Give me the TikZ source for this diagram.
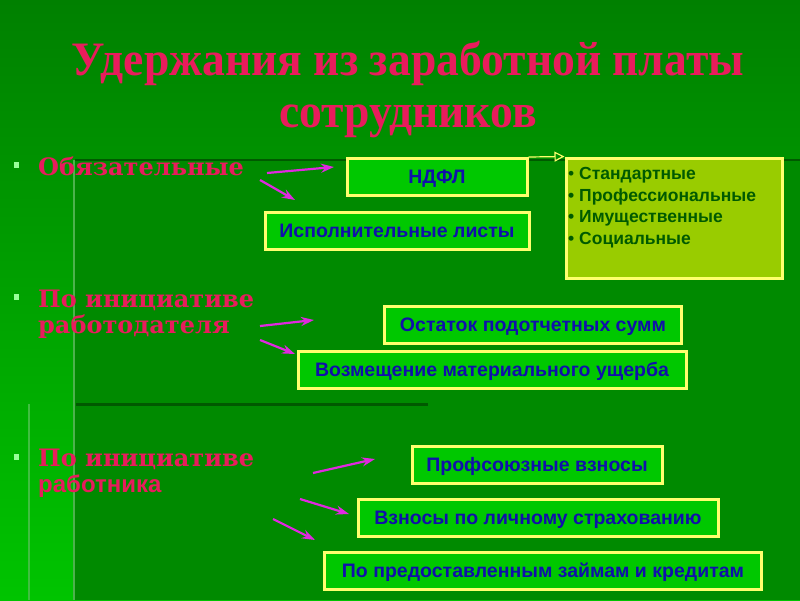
\documentclass[tikz,border=0pt]{standalone}
\usepackage{fontspec}
\setmainfont{Liberation Sans}
\newfontfamily\titlefont[FakeStretch=0.95]{Liberation Serif}
\newfontfamily\slabfont{DejaVu Serif}
\usetikzlibrary{arrows.meta,positioning}
\definecolor{bgdark}{RGB}{0,128,0}
\definecolor{bglight}{RGB}{0,196,0}
\definecolor{bgpanel}{RGB}{0,138,0}
\definecolor{titlered}{RGB}{232,28,92}
\definecolor{boxgreen}{RGB}{0,200,0}
\definecolor{boxyellow}{RGB}{255,255,110}
\definecolor{boxblue}{RGB}{16,16,170}
\definecolor{listgreen}{RGB}{153,204,0}
\definecolor{listtext}{RGB}{0,90,0}
\definecolor{pinkarrow}{RGB}{224,40,224}

\tikzset{
  wbox/.style={draw=boxyellow, line width=3pt, fill=boxgreen, text=boxblue,
    font=\fontsize{19.5}{22}\selectfont\bfseries, inner sep=0pt, minimum height=37pt,
    text height=14pt, text depth=1.5pt},
  kindlabel/.style={text=titlered, font=\slabfont\fontsize{24}{26}\selectfont\bfseries,
    anchor=base west, inner sep=0pt, align=left},
  sqbullet/.style={fill=green!40!white, minimum width=5pt, minimum height=6pt, inner sep=0pt},
  pinkarr/.style={draw=pinkarrow, line width=2.2pt, -{Stealth[length=13pt,width=9pt]}}
}

\begin{document}
\begin{tikzpicture}[x=1pt, y=-1pt]
  \useasboundingbox (0,0) rectangle (800,600);
  % background
  \shade[top color=bgdark, bottom color=bglight] (0,0) rectangle (800,600);
  \fill[bgpanel] (75,160) rectangle (800,600);
  \draw[green!35!black, line width=2pt] (75,160) -- (800,160);
  \draw[gray!60!green, line width=2.5pt] (74,160) -- (74,600);
  \draw[green!35!black, line width=3pt] (76,404) -- (428,404);
  \draw[gray!50!green, line width=2pt] (29,404) -- (29,600);

  % title
  \node[text=titlered, font=\titlefont\fontsize{48}{52}\selectfont\bfseries, align=center, anchor=base]
    (title) at (408,127) {Удержания из заработной платы\\сотрудников};

  % kinds of deductions
  \node[sqbullet] (b1) at (16,165) {};
  \node[kindlabel] (obyaz) at (38,175) {Обязательные};
  \node[sqbullet] (b2) at (16,297) {};
  \node[kindlabel] (rabotod) at (38,333) {По инициативе\\работодателя};
  \node[sqbullet] (b3) at (16,457) {};
  \node[kindlabel] (rabotn) at (38,492) {По инициативе\\{\rmfamily\fontsize{24}{26}\selectfont\bfseries работника}};

  % boxes
  \node[wbox, minimum width=180pt] (ndfl) at (437,177) {НДФЛ};
  \node[wbox, minimum width=264pt] (ispol) at (397,231) {Исполнительные листы};
  \node[draw=boxyellow, line width=3pt, fill=listgreen, text=listtext, minimum width=216pt,
    minimum height=120pt, inner sep=0pt] (vychet) at (674,218) {};
  \node[text=listtext, font=\fontsize{17.5}{21.7}\selectfont\bfseries, align=left, anchor=north west,
    inner sep=0pt] (vychtext) at (568,167) {{\mdseries\textbullet} Стандартные\\\textbullet{} Профессиональные\\\textbullet{} Имущественные\\\textbullet{} Социальные};
  \node[wbox, minimum width=297pt] (ostatok) at (533,325) {Остаток подотчетных сумм};
  \node[wbox, minimum width=388pt] (vozm) at (492,370) {Возмещение материального ущерба};
  \node[wbox, minimum width=250pt] (profs) at (537,465) {Профсоюзные взносы};
  \node[wbox, minimum width=360pt] (strah) at (538,518) {Взносы по личному страхованию};
  \node[wbox, minimum width=437pt] (zaim) at (543,571) {По предоставленным займам и кредитам};

  % arrow ends
  \coordinate (a1s) at (267,173); \coordinate (a1e) at (334,167);
  \coordinate (a2s) at (260,180); \coordinate (a2e) at (295,200);
  \coordinate (a3s) at (260,326); \coordinate (a3e) at (314,320);
  \coordinate (a4s) at (260,340); \coordinate (a4e) at (295,354);
  \coordinate (a5s) at (313,473); \coordinate (a5e) at (375,459);
  \coordinate (a6s) at (300,499); \coordinate (a6e) at (349,514);
  \coordinate (a7s) at (273,519); \coordinate (a7e) at (315,540);
  \foreach \i in {1,...,7} \draw[pinkarr] (a\i s) -- (a\i e);

  \draw[boxyellow, line width=1.2pt, -{Triangle[open, length=10pt, width=10pt]}]
    (ndfl.north east) -- (vychet.north west);
\end{tikzpicture}
\end{document}
